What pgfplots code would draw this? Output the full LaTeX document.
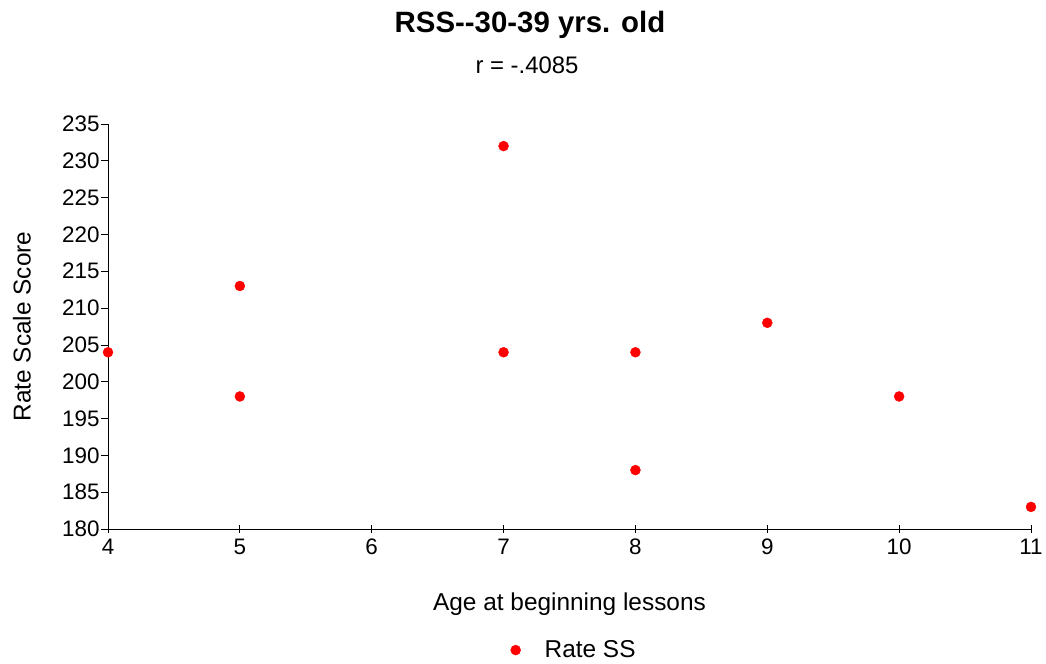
\documentclass[border=0pt]{standalone}
\usepackage{fontspec}
\setmainfont{Liberation Sans}
\usepackage{pgfplots}
\pgfplotsset{compat=1.18}
\begin{document}
\begin{tikzpicture}
\path (0,0) rectangle (1046bp,664bp);
\node[font=\fontsize{29.5}{33}\selectfont\bfseries] at (530bp,639bp) {RSS{-}{-}30-39 yrs. old};
\node[font=\fontsize{24}{28}\selectfont] at (527bp,599bp) {r = -.4085};
\begin{axis}[
  at={(108bp,135bp)}, anchor=south west,
  scale only axis, width=923bp, height=405bp,
  xmin=4, xmax=11, ymin=180, ymax=235,
  xtick={4,5,...,11}, ytick={180,185,...,235},
  axis lines*=left,
  axis line style={black, line width=0.8pt, -},
  x tick style={black, line width=0.8pt}, y tick style={black, line width=0.8pt},
  xtick align=center, ytick align=outside,
  major tick length=7bp,
  tick label style={font=\fontsize{22.5}{26}\selectfont},
  /pgf/number format/assume math mode=true,
  yticklabel style={xshift=2bp},
  xticklabel style={yshift=-3bp},
  xlabel={Age at beginning lessons},
  ylabel={Rate Scale Score},
  label style={font=\fontsize{24.5}{28}\selectfont},
  xlabel style={at={(axis description cs:0.5,-0.185)}, anchor=center},
  ylabel style={at={(axis description cs:-0.0932,0.5)}, anchor=center},
  clip=false,
  legend style={at={(axis description cs:0.505,-0.299)}, anchor=center, draw=none, font=\fontsize{24.5}{28}\selectfont,
    /tikz/every odd column/.append style={column sep=22bp}},
  legend cell align=left,
]
\addplot[only marks, mark=*, mark size=5bp, color=red] coordinates {
(4,204) (5,213) (5,198) (7,232) (7,204) (8,204) (8,188) (9,208) (10,198) (11,183)
};
\addlegendentry{Rate SS}
\end{axis}
\end{tikzpicture}
\end{document}
